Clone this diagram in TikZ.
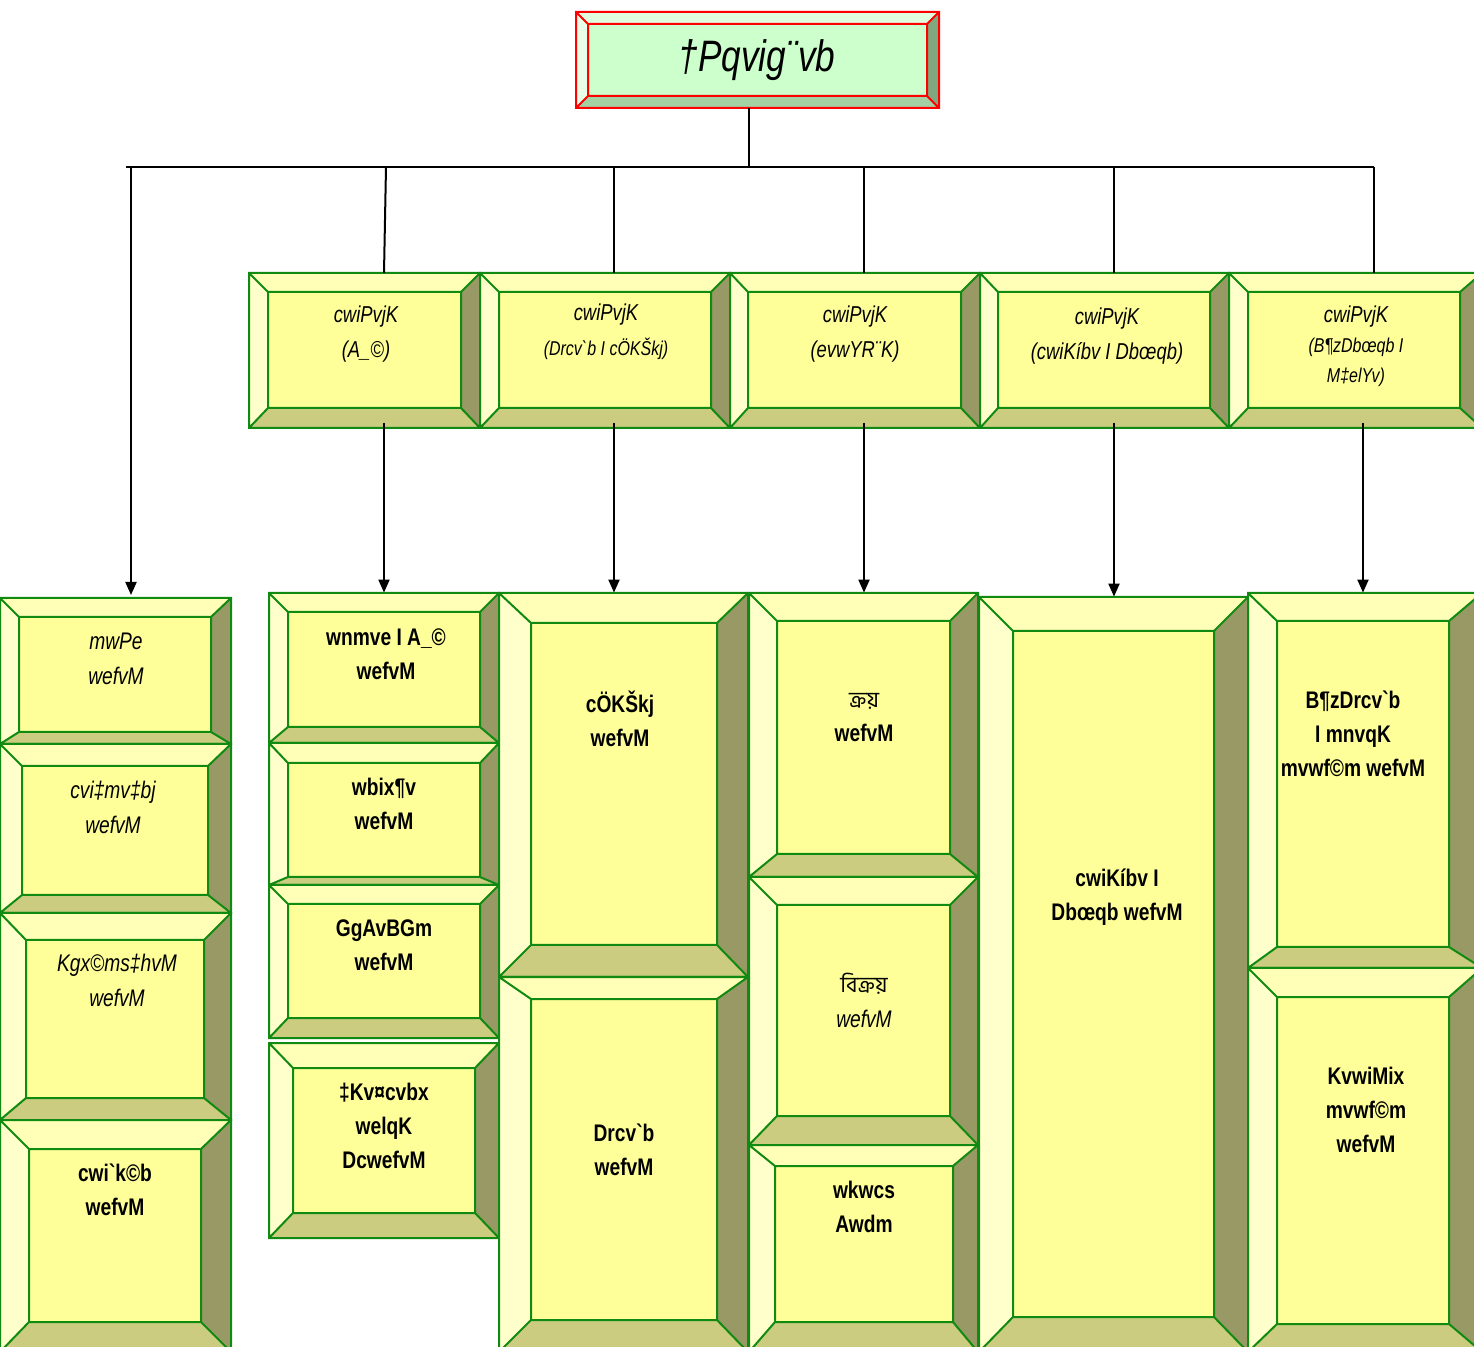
\documentclass[tikz,border=0pt]{standalone}
\usepackage{fontspec}
\usetikzlibrary{arrows.meta,fit}
\newfontfamily\sut[FakeStretch=0.8]{Liberation Sans}
\newfontfamily\beng[Script=Bengali]{Hind Siliguri}
\definecolor{inY}{HTML}{FFFF99}
\definecolor{topY}{HTML}{FFFFB8}
\definecolor{leftY}{HTML}{FFFFCC}
\definecolor{rightY}{HTML}{999966}
\definecolor{botY}{HTML}{CCCC80}
\definecolor{edgeG}{HTML}{108A10}
\definecolor{inG}{HTML}{CCFFCC}
\definecolor{topG}{HTML}{DFFFDF}
\definecolor{leftG}{HTML}{E8FFE8}
\definecolor{rightG}{HTML}{80A880}
\definecolor{botG}{HTML}{A3D1A3}
\tikzset{
  bvtop/.style={fill=topY}, bvleft/.style={fill=leftY}, bvright/.style={fill=rightY},
  bvbot/.style={fill=botY}, bvin/.style={fill=inY},
  bvedge/.style={draw=edgeG, line width=1pt},
  lbl/.style={align=center, inner sep=0pt, text=black},
  dirf/.style={lbl, font=\sut\itshape\fontsize{11.5}{17.5}\selectfont},
  itf/.style={lbl, font=\sut\itshape\fontsize{12}{17.5}\selectfont},
  bdf/.style={lbl, font=\sut\bfseries\fontsize{12}{17}\selectfont},
  conn/.style={draw=black, line width=1pt},
  arr/.style={conn, -{Triangle[length=6.5pt,width=5.5pt]}}
}
\newcommand{\bbox}[9]{%
  \path[bvtop] (#2,#3) -- (#4,#3) -- (#8,#7) -- (#6,#7) -- cycle;
  \path[bvleft] (#2,#3) -- (#6,#7) -- (#6,#9) -- (#2,#5) -- cycle;
  \path[bvright] (#4,#3) -- (#8,#7) -- (#8,#9) -- (#4,#5) -- cycle;
  \path[bvbot] (#2,#5) -- (#6,#9) -- (#8,#9) -- (#4,#5) -- cycle;
  \path[bvin] (#6,#7) rectangle (#8,#9);
  \path[bvedge] (#2,#3) rectangle (#4,#5) (#6,#7) rectangle (#8,#9)
     (#2,#3) -- (#6,#7) (#4,#3) -- (#8,#7) (#2,#5) -- (#6,#9) (#4,#5) -- (#8,#9);
  \coordinate (#1-nw) at (#2,#3);
  \coordinate (#1-se) at (#4,#5);
  \node[inner sep=0pt, fit=(#1-nw)(#1-se)] (#1) {};
}
\begin{document}
\begin{tikzpicture}[x=0.5pt, y=-0.5pt]
\useasboundingbox[fill=white] (0,0) rectangle (1474,1347);
\begin{scope}
\clip (0,0) rectangle (1474,1347);
% title box
\begin{scope}[bvtop/.style={fill=topG}, bvleft/.style={fill=leftG}, bvright/.style={fill=rightG},
  bvbot/.style={fill=botG}, bvin/.style={fill=inG}, bvedge/.style={draw=red, line width=1pt}]
\bbox{T}{576}{12}{939}{108}{588}{24}{927}{96}
\end{scope}
% directors
\bbox{D1}{249}{273}{480}{428}{268}{292}{461}{408}
\bbox{D2}{480}{273}{730}{428}{499}{292}{711}{408}
\bbox{D3}{730}{273}{980}{428}{748}{292}{961}{408}
\bbox{D4}{980}{273}{1229}{428}{998}{292}{1210}{408}
\bbox{D5}{1229}{273}{1482}{428}{1248}{292}{1460}{408}
% column 1
\bbox{A1}{0}{598}{231}{744}{19}{617}{211}{732}
\bbox{A2}{0}{744}{231}{913}{22}{766}{208}{895}
\bbox{A3}{0}{913}{231}{1120}{26}{940}{204}{1098}
\bbox{A4}{0}{1120}{231}{1352}{29}{1149}{201}{1322}
% column 2
\bbox{B1}{269}{593}{499}{743}{288}{612}{480}{727}
\bbox{B2}{269}{743}{499}{885}{288}{763}{480}{877}
\bbox{B3}{269}{885}{499}{1038}{288}{904}{480}{1018}
\bbox{B4}{269}{1043}{499}{1238}{293}{1068}{475}{1213}
% column 3
\bbox{C1}{499}{593}{748}{977}{531}{623}{717}{945}
\bbox{C2}{499}{977}{748}{1352}{531}{999}{717}{1320}
% column 4
\bbox{E1}{749}{593}{978}{877}{777}{621}{950}{854}
\bbox{E2}{749}{877}{978}{1145}{777}{905}{950}{1116}
\bbox{E3}{749}{1145}{978}{1352}{775}{1166}{953}{1322}
% column 5
\bbox{F1}{979}{597}{1248}{1352}{1013}{631}{1214}{1317}
% column 6
\bbox{G1}{1248}{593}{1482}{968}{1277}{621}{1449}{947}
\bbox{G2}{1248}{968}{1482}{1352}{1277}{997}{1449}{1324}
\end{scope}
% texts
\node[lbl, font=\sut\itshape\fontsize{22}{26}\selectfont] (tT) at (757,60) {†Pqvig¨vb};
\node[dirf] (tD1) at (366,334) {cwiPvjK\\(A\_©)};
\node[dirf] (tD2) at (606,332) {cwiPvjK\\{\fontsize{10}{14}\selectfont (Drcv`b I cÖKŠkj)}};
\node[dirf] (tD3) at (855,334) {cwiPvjK\\(evwYR¨K)};
\node[dirf] (tD4) at (1107,336) {cwiPvjK\\(cwiKíbv I Dbœqb)};
\node[dirf, font=\sut\itshape\fontsize{10}{15}\selectfont] (tD5) at (1356,346) {{\fontsize{11.5}{15}\selectfont cwiPvjK}\\(B¶zDbœqb I\\M‡elYv)};
\node[itf] (tA1) at (116,659) {mwPe\\wefvM};
\node[itf] (tA2) at (113,807) {cvi‡mv‡bj\\wefvM};
\node[itf] (tA3) at (117,980) {Kgx©ms‡hvM\\wefvM};
\node[bdf] (tA4) at (115,1190) {cwi`k©b\\wefvM};
\node[bdf] (tB1) at (386,654) {wnmve I A\_©\\wefvM};
\node[bdf] (tB2) at (384,804) {wbix¶v\\wefvM};
\node[bdf] (tB3) at (384,945) {GgAvBGm\\wefvM};
\node[bdf] (tB4) at (384,1126) {‡Kv¤cvbx\\welqK\\DcwefvM};
\node[bdf] (tC1) at (620,719) {cÖKŠkj\\wefvM};
\node[bdf] (tC2) at (624,1150) {Drcv`b\\wefvM};
\node[bdf] (tE1) at (864,718) {{\beng\mdseries\fontsize{11}{17}\selectfont ক্রয়}\\wefvM};
\node[itf] (tE2) at (864,1000) {{\beng\upshape\fontsize{11}{17}\selectfont বিক্রয়}\\wefvM};
\node[bdf] (tE3) at (864,1207) {wkwcs\\Awdm};
\node[bdf] (tF1) at (1117,897) {cwiKíbv I\\Dbœqb wefvM};
\node[bdf] (tG1) at (1353,734) {B¶zDrcv`b\\I mnvqK\\mvwf©m wefvM};
\node[bdf] (tG2) at (1366,1110) {KvwiMix\\mvwf©m\\wefvM};
% connectors
\coordinate (jT) at (749,167);
\coordinate (hL) at (126,167);
\coordinate (hR) at (1374,167);
\draw[conn] (T.south -| jT) -- (jT);
\draw[conn] (hL) -- (hR);
\draw[arr] (131,167) -- (131,595);
\draw[conn] (386,167) -- (384,273);
\draw[conn] (614,167) -- (614 ,273);
\draw[conn] (864,167) -- (864,273);
\draw[conn] (1114,167) -- (1114,273);
\draw[conn] (1374,167) -- (1374,273);
\draw[arr] (384,423) -- (B1.north -| 384,0);
\draw[arr] (614,423) -- (C1.north -| 614,0);
\draw[arr] (864,423) -- (E1.north -| 864,0);
\draw[arr] (1114,423) -- (F1.north -| 1114,0);
\draw[arr] (1363,423) -- (G1.north -| 1363,0);
\end{tikzpicture}
\end{document}
